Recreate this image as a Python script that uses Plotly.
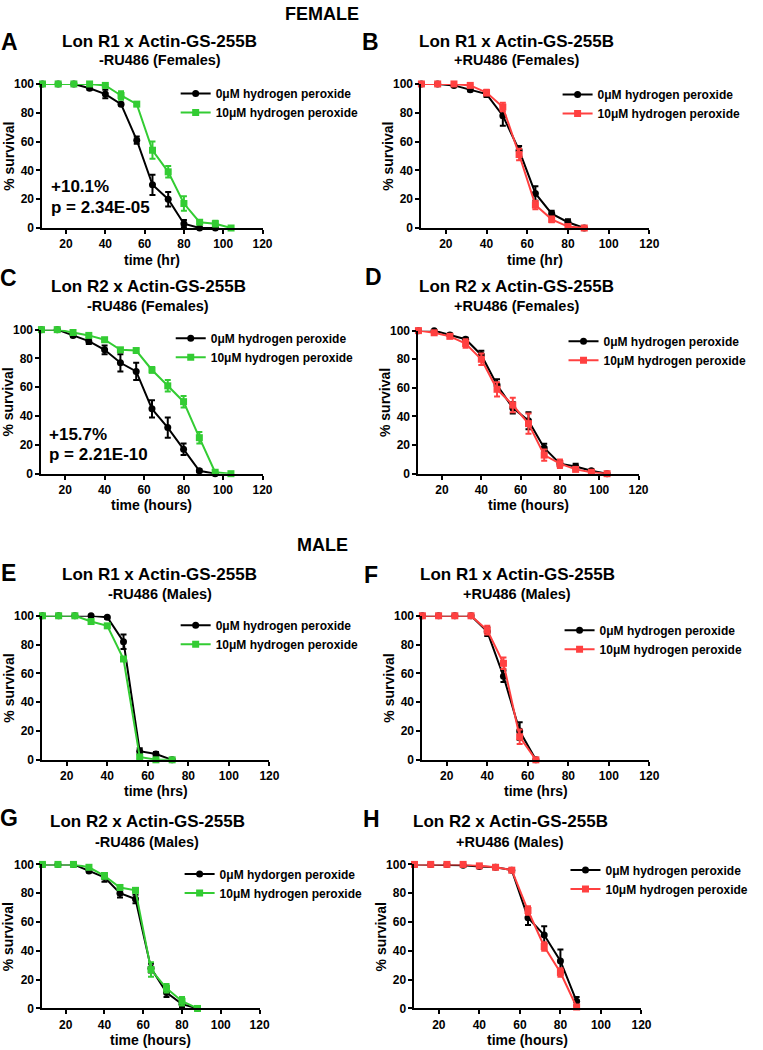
import plotly.graph_objects as go

# ---------------- data ----------------
time_axis_ticks = [20, 40, 60, 80, 100, 120]
surv_ticks = [0, 20, 40, 60, 80, 100]

# Panel A: Lon R1 x Actin-GS-255B, -RU486 (Females)
a_t0 = [8, 16, 24, 32, 40, 48, 56, 64, 72, 80, 88, 96]
a_v0 = [100, 100, 100, 97, 93, 86, 61, 30, 20, 3, 0, 0]
a_e0 = [0, 0, 0, 1, 3, 1, 2.5, 7, 5, 2.5, 0, 0]
a_t10 = [8, 16, 24, 32, 40, 48, 56, 64, 72, 80, 88, 96, 104]
a_v10 = [100, 100, 100, 100, 99, 92, 86, 54, 39, 17, 4, 3, 0]
a_e10 = [0, 0, 0, 0, 1, 3, 1, 6, 4, 5, 1, 2, 0]

# Panel B: Lon R1 x Actin-GS-255B, +RU486 (Females)
b_t0 = [8, 16, 24, 32, 40, 48, 56, 64, 72, 80, 88]
b_v0 = [100, 100, 99, 96, 93, 78, 54, 24, 10, 4, 0]
b_e0 = [0, 0, 1, 1, 2, 7, 3, 5, 2, 2, 0]
b_t10 = [8, 16, 24, 32, 40, 48, 56, 64, 72, 80, 88]
b_v10 = [100, 100, 100, 99, 94, 84, 51, 16, 6, 1, 0]
b_e10 = [0, 0, 0, 1, 2, 3, 4, 3, 2, 1, 0]

# Panel C: Lon R2 x Actin-GS-255B, -RU486 (Females)
c_t0 = [8, 16, 24, 32, 40, 48, 56, 64, 72, 80, 88, 96]
c_v0 = [100, 100, 96, 92, 86, 77, 71, 45, 32, 17, 2, 0]
c_e0 = [0, 1, 1, 2, 3, 6, 6, 6, 7, 4, 1, 0]
c_t10 = [8, 16, 24, 32, 40, 48, 56, 64, 72, 80, 88, 96, 104]
c_v10 = [100, 100, 98, 96, 93, 86, 85.5, 72, 61, 50, 25, 1, 0]
c_e10 = [0, 1, 1, 1, 1, 1, 1, 2, 4, 4, 4, 1, 0]

# Panel D: Lon R2 x Actin-GS-255B, +RU486 (Females)
d_t0 = [8, 16, 24, 32, 40, 48, 56, 64, 72, 80, 88, 96, 104]
d_v0 = [100, 100, 97, 94, 83, 62, 46, 37, 18, 7, 5, 2, 0]
d_e0 = [0, 1, 1, 1, 3, 4, 4, 6, 3, 2, 2, 1, 0]
d_t10 = [8, 16, 24, 32, 40, 48, 56, 64, 72, 80, 88, 96, 104]
d_v10 = [100, 98.5, 96, 91, 80, 59, 48, 35, 13, 7, 3, 1, 0]
d_e10 = [0, 1, 1, 3, 4, 5, 5, 7, 4, 3, 1, 1, 0]

# Panel E: Lon R1 x Actin-GS-255B, -RU486 (Males)
e_t0 = [8, 16, 24, 32, 40, 48, 56, 64, 72]
e_v0 = [100, 100, 100, 100, 99, 82, 6, 4, 0]
e_e0 = [0, 0, 0, 0, 1, 5, 2, 1.5, 0]
e_t10 = [8, 16, 24, 32, 40, 48, 56, 64, 72]
e_v10 = [100, 100, 100, 96, 93, 70, 2, 0, 0]
e_e10 = [0, 0, 0, 1, 1, 1, 1, 0, 0]

# Panel F: Lon R1 x Actin-GS-255B, +RU486 (Males)
f_t0 = [8, 16, 24, 32, 40, 48, 56, 64]
f_v0 = [100, 100, 100, 100, 89, 58, 20, 0]
f_e0 = [0, 0, 0, 0, 3, 4, 6, 0]
f_t10 = [8, 16, 24, 32, 40, 48, 56, 64]
f_v10 = [100, 100, 100, 100, 90, 67, 16, 0]
f_e10 = [0, 0, 0, 0, 3, 4, 5, 0]

# Panel G: Lon R2 x Actin-GS-255B, -RU486 (Males)
g_t0 = [8, 16, 24, 32, 40, 48, 56, 64, 72, 80, 88]
g_v0 = [100, 100, 100, 95.5, 91, 80, 76, 28, 11, 3, 0]
g_e0 = [0, 0, 1, 1, 3, 3, 3, 3, 3, 2, 0]
g_t10 = [8, 16, 24, 32, 40, 48, 56, 64, 72, 80, 88]
g_v10 = [100, 100, 100, 98, 92, 84, 82, 27, 14, 5, 0]
g_e10 = [0, 0, 0, 1, 2, 1, 1, 5, 3, 3, 0]

# Panel H: Lon R2 x Actin-GS-255B, +RU486 (Males)
h_t0 = [8, 16, 24, 32, 40, 48, 56, 64, 72, 80, 88]
h_v0 = [100, 100, 100, 99.5, 98.5, 98, 96, 63, 51, 33, 5]
h_e0 = [0, 0, 0, 1, 1, 1, 1, 5, 6, 8, 3]
h_t10 = [8, 16, 24, 32, 40, 48, 56, 64, 72, 80, 88]
h_v10 = [100, 100, 100, 100, 99, 98, 96, 68, 43, 25, 1]
h_e10 = [0, 0, 0, 0, 0, 0, 0, 3, 3, 3, 1]

panel_letters = ["A", "B", "C", "D", "E", "F", "G", "H"]
panel_titles = ["Lon R1 x Actin-GS-255B"] * 2 + ["Lon R2 x Actin-GS-255B"] * 2 + \
               ["Lon R1 x Actin-GS-255B"] * 2 + ["Lon R2 x Actin-GS-255B"] * 2
panel_subtitles = ["-RU486 (Females)", "+RU486 (Females)", "-RU486 (Females)", "+RU486 (Females)",
                   "-RU486 (Males)", "+RU486 (Males)", "-RU486 (Males)", "+RU486 (Males)"]
x_titles = ["time (hr)", "time (hr)", "time (hours)", "time (hours)",
            "time (hrs)", "time (hrs)", "time (hours)", "time (hours)"]
legend_0 = ["0\u03bcM hydrogen peroxide"] * 6 + ["0\u03bcM hydorgen peroxide", "0\u03bcM hydrogen peroxide"]
legend_10 = ["10\u03bcM hydrogen peroxide"] * 8
series = [
    (a_t0, a_v0, a_e0, a_t10, a_v10, a_e10),
    (b_t0, b_v0, b_e0, b_t10, b_v10, b_e10),
    (c_t0, c_v0, c_e0, c_t10, c_v10, c_e10),
    (d_t0, d_v0, d_e0, d_t10, d_v10, d_e10),
    (e_t0, e_v0, e_e0, e_t10, e_v10, e_e10),
    (f_t0, f_v0, f_e0, f_t10, f_v10, f_e10),
    (g_t0, g_v0, g_e0, g_t10, g_v10, g_e10),
    (h_t0, h_v0, h_e0, h_t10, h_v10, h_e10),
]

# ---------------- layout / style ----------------
W, H = 763, 1050
FONT = "Arial, Liberation Sans, Helvetica, sans-serif"
BLACK = "#000000"
GREEN = "#33CC33"
RED = "#FF4040"
treat_colors = [GREEN, RED, GREEN, RED, GREEN, RED, GREEN, RED]

# pixel boxes: (x0, x1, ytop, ybottom)
boxes = [
    (43, 266, 78, 224), (427, 658, 78, 224),
    (42, 266, 327, 473), (424, 647, 328, 473),
    (43, 273, 617, 763), (428, 658, 617, 763),
    (43, 263, 869, 1015), (420, 650, 869, 1015),
]
letter_pos = [(10, 35), (375, 35), (9, 275), (378, 274), (9, 574), (376, 576), (9, 822), (376, 823)]
title_pos = [(162, 35, 54), (523, 35, 54), (150, 283, 303), (523, 283, 303),
             (162, 575, 595), (524, 575, 595), (149, 825, 846), (517, 825, 846)]
legend_pos = [(178, 73), (565, 74), (173, 321), (571, 324), (178, 612), (567, 617), (182, 864), (573, 860)]


def px(x):
    return x / W


def py(y):
    return 1 - y / H


fig = go.Figure()
annotations = []

for i in range(8):
    x0, x1, yt, yb = boxes[i]
    ax = "" if i == 0 else str(i + 1)
    t0, v0, e0, t10, v10, e10 = series[i]
    leg = "legend" if i == 0 else "legend" + str(i + 1)
    fig.add_trace(go.Scatter(
        x=t0, y=v0, mode="lines+markers", name=legend_0[i],
        xaxis="x" + ax, yaxis="y" + ax, legend=leg, cliponaxis=False,
        line=dict(color=BLACK, width=2),
        marker=dict(symbol="circle", size=7, color=BLACK),
        error_y=dict(type="data", array=e0, visible=True, color=BLACK, thickness=2, width=3),
    ))
    fig.add_trace(go.Scatter(
        x=t10, y=v10, mode="lines+markers", name=legend_10[i],
        xaxis="x" + ax, yaxis="y" + ax, legend=leg, cliponaxis=False,
        line=dict(color=treat_colors[i], width=2),
        marker=dict(symbol="square", size=7, color=treat_colors[i]),
        error_y=dict(type="data", array=e10, visible=True, color=treat_colors[i], thickness=2, width=3),
    ))
    common = dict(showline=True, linewidth=2, linecolor=BLACK, ticks="outside", ticklen=4,
                  tickwidth=2, tickcolor=BLACK, showgrid=False, zeroline=False,
                  tickfont=dict(family=FONT, size=12, color=BLACK, weight="bold"))
    fig.update_layout(**{
        "xaxis" + ax: dict(domain=[px(x0), px(x1)], anchor="y" + ax, range=[8, 120],
                           tickvals=time_axis_ticks, **common),
        "yaxis" + ax: dict(domain=[py(yb), py(yt)], anchor="x" + ax, range=[0, 100],
                           tickvals=surv_ticks, **common),
        leg: dict(x=px(legend_pos[i][0]), y=py(legend_pos[i][1]), xanchor="left", yanchor="top",
                  bgcolor="rgba(0,0,0,0)", tracegroupgap=0, itemwidth=30,
                  font=dict(family=FONT, size=12, color=BLACK, weight="bold")),
    })
    # letters, titles, axis titles
    annotations.append(dict(text=panel_letters[i], x=px(letter_pos[i][0]), y=py(letter_pos[i][1]),
                            font=dict(size=23, weight="bold")))
    annotations.append(dict(text=panel_titles[i], x=px(title_pos[i][0]), y=py(title_pos[i][1]),
                            font=dict(size=17, weight="bold")))
    annotations.append(dict(text=panel_subtitles[i], x=px(title_pos[i][0]), y=py(title_pos[i][2]),
                            font=dict(size=14.5, weight="bold")))
    annotations.append(dict(text=x_titles[i], x=px((x0 + x1) / 2), y=py(yb + 32),
                            font=dict(size=14, weight="bold")))
    annotations.append(dict(text="% survival", x=px(x0 - 34), y=py((yt + yb) / 2), textangle=-90,
                            font=dict(size=14, weight="bold")))

# statistics text
annotations += [
    dict(text="+10.1%", x=px(50), y=py(182), xanchor="left", font=dict(size=17, weight="bold")),
    dict(text="p = 2.34E-05", x=px(50), y=py(203), xanchor="left", font=dict(size=17, weight="bold")),
    dict(text="+15.7%", x=px(48), y=py(433), xanchor="left", font=dict(size=17, weight="bold")),
    dict(text="p = 2.21E-10", x=px(48), y=py(454), xanchor="left", font=dict(size=17, weight="bold")),
    dict(text="FEMALE", x=px(326), y=py(7), font=dict(size=18, weight="bold")),
    dict(text="MALE", x=px(327), y=py(545), font=dict(size=18, weight="bold")),
]
for a in annotations:
    a.setdefault("xref", "paper")
    a.setdefault("yref", "paper")
    a.setdefault("showarrow", False)
    a.setdefault("xanchor", "center")
    a.setdefault("yanchor", "middle")
    a["font"] = dict(family=FONT, color=BLACK, **a["font"])

fig.update_layout(
    width=W, height=H, margin=dict(l=0, r=0, t=0, b=0),
    paper_bgcolor="white", plot_bgcolor="white",
    annotations=annotations, showlegend=True,
    font=dict(family=FONT, color=BLACK),
)

fig.write_html("out.html", config={"displayModeBar": False},
               post_script="document.body.style.margin='0px';")
